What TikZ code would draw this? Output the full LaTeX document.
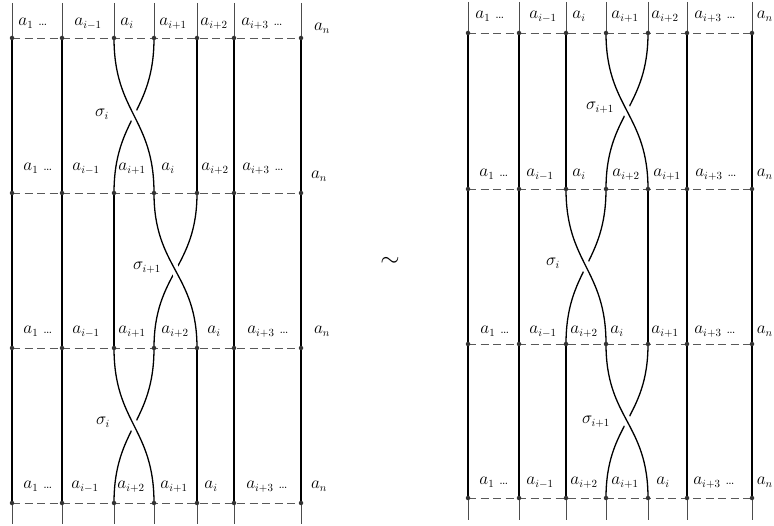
\documentclass[tikz,border=0pt]{standalone}
\begin{document}
\begin{tikzpicture}[x=1pt,y=-1pt,
  strand/.style={line width=1.3pt, black},
  stub/.style={line width=0.6pt, black!70},
  rung/.style={dash pattern=on 8pt off 4.5pt, line width=0.8pt, black!65},
  dot/.style={circle, fill=black!80, inner sep=0pt, minimum size=4.5pt},
  lab/.style={font=\fontsize{16}{18}\selectfont, inner sep=0pt, anchor=base},
  sig/.style={font=\fontsize{16}{18}\selectfont, inner sep=0pt},
  over/.style={strand, preaction={draw, white, line width=9pt}}]
\useasboundingbox (0,0) rectangle (774,526);
\clip (0,0) rectangle (774,526);
% ---------- left diagram coordinates
\foreach \x [count=\k] in {12,62,114,154,197,234,301} {
  \coordinate (L\k-0) at (\x,3);
  \coordinate (L\k-1) at (\x,38);
  \coordinate (L\k-2) at (\x,193);
  \coordinate (L\k-3) at (\x,348);
  \coordinate (L\k-4) at (\x,503);
  \coordinate (L\k-5) at (\x,524);
}
% ---------- right diagram coordinates
\foreach \x [count=\k] in {468,519,566,606,648,687,752} {
  \coordinate (R\k-0) at (\x,2);
  \coordinate (R\k-1) at (\x,33);
  \coordinate (R\k-2) at (\x,189);
  \coordinate (R\k-3) at (\x,344);
  \coordinate (R\k-4) at (\x,498);
  \coordinate (R\k-5) at (\x,520);
}
% stubs
\foreach \k in {1,...,7} {
  \draw[stub] (L\k-0) -- (L\k-1);
  \draw[stub] (L\k-4) -- (L\k-5);
  \draw[stub] (R\k-0) -- (R\k-1);
  \draw[stub] (R\k-4) -- (R\k-5);
}
% straight strands, left
\foreach \k in {1,2,5,6,7} \draw[strand] (L\k-1) -- (L\k-2);
\foreach \k in {1,2,3,6,7} \draw[strand] (L\k-2) -- (L\k-3);
\foreach \k in {1,2,5,6,7} \draw[strand] (L\k-3) -- (L\k-4);
% straight strands, right
\foreach \k in {1,2,3,6,7} \draw[strand] (R\k-1) -- (R\k-2);
\foreach \k in {1,2,5,6,7} \draw[strand] (R\k-2) -- (R\k-3);
\foreach \k in {1,2,3,6,7} \draw[strand] (R\k-3) -- (R\k-4);
% crossings, left
\draw[strand] (L4-1) .. controls +(0,75) and +(0,-75) .. (L3-2);
\draw[over]   (L3-1) .. controls +(0,75) and +(0,-75) .. (L4-2);
\draw[strand] (L5-2) .. controls +(0,75) and +(0,-75) .. (L4-3);
\draw[over]   (L4-2) .. controls +(0,75) and +(0,-75) .. (L5-3);
\draw[strand] (L4-3) .. controls +(0,75) and +(0,-75) .. (L3-4);
\draw[over]   (L3-3) .. controls +(0,75) and +(0,-75) .. (L4-4);
% crossings, right
\draw[strand] (R5-1) .. controls +(0,75) and +(0,-75) .. (R4-2);
\draw[over]   (R4-1) .. controls +(0,75) and +(0,-75) .. (R5-2);
\draw[strand] (R4-2) .. controls +(0,75) and +(0,-75) .. (R3-3);
\draw[over]   (R3-2) .. controls +(0,75) and +(0,-75) .. (R4-3);
\draw[strand] (R5-3) .. controls +(0,75) and +(0,-75) .. (R4-4);
\draw[over]   (R4-3) .. controls +(0,75) and +(0,-75) .. (R5-4);
% rungs and dots
\foreach \r in {1,...,4} {
  \draw[rung] (L1-\r) -- (L7-\r);
  \draw[rung] (R1-\r) -- (R7-\r);
  \foreach \k in {1,...,7} {
    \node[dot] (dL\k-\r) at (L\k-\r) {};
    \node[dot] (dR\k-\r) at (R\k-\r) {};
  }
}
% ---------- labels, left
\node[lab] (l11) at (33,26) {$a_1$ \dots};
\node[lab] (l12) at (88,26) {$a_{i-1}$};
\node[lab] (l13) at (127,26) {$a_i$};
\node[lab] (l14) at (173,26) {$a_{i+1}$};
\node[lab] (l15) at (214,26) {$a_{i+2}$};
\node[lab] (l16) at (262,26) {$a_{i+3}$ \dots};
\node[lab] (l17) at (322,31) {$a_n$};

\node[lab] (l21) at (38,171) {$a_1$ \dots};
\node[lab] (l22) at (86,171) {$a_{i-1}$};
\node[lab] (l23) at (132,171) {$a_{i+1}$};
\node[lab] (l24) at (168,171) {$a_i$};
\node[lab] (l25) at (215,171) {$a_{i+2}$};
\node[lab] (l26) at (263,171) {$a_{i+3}$ \dots};
\node[lab] (l27) at (319,179) {$a_n$};

\node[lab] (l31) at (38,334) {$a_1$ \dots};
\node[lab] (l32) at (86,334) {$a_{i-1}$};
\node[lab] (l33) at (132,334) {$a_{i+1}$};
\node[lab] (l34) at (175,334) {$a_{i+2}$};
\node[lab] (l35) at (214,334) {$a_i$};
\node[lab] (l36) at (268,334) {$a_{i+3}$ \dots};
\node[lab] (l37) at (322,334) {$a_n$};

\node[lab] (l41) at (38,489) {$a_1$ \dots};
\node[lab] (l42) at (85,489) {$a_{i-1}$};
\node[lab] (l43) at (131,489) {$a_{i+2}$};
\node[lab] (l44) at (174,489) {$a_{i+1}$};
\node[lab] (l45) at (211,489) {$a_i$};
\node[lab] (l46) at (267,489) {$a_{i+3}$ \dots};
\node[lab] (l47) at (319,489) {$a_n$};

\node[sig] (s1) at (102,114) {$\sigma_i$};
\node[sig] (s2) at (147,268) {$\sigma_{i+1}$};
\node[sig] (s3) at (103,422) {$\sigma_i$};
% ---------- labels, right
\node[lab] (r11) at (490,19) {$a_1$ \dots};
\node[lab] (r12) at (543,19) {$a_{i-1}$};
\node[lab] (r13) at (579,19) {$a_i$};
\node[lab] (r14) at (625,19) {$a_{i+1}$};
\node[lab] (r15) at (665,19) {$a_{i+2}$};
\node[lab] (r16) at (715,19) {$a_{i+3}$ \dots};
\node[lab, anchor=base east] (r17) at (773,19) {$a_n$};

\node[lab] (r21) at (494,177) {$a_1$ \dots};
\node[lab] (r22) at (540,177) {$a_{i-1}$};
\node[lab] (r23) at (579,177) {$a_i$};
\node[lab] (r24) at (626,177) {$a_{i+2}$};
\node[lab] (r25) at (667,177) {$a_{i+1}$};
\node[lab] (r26) at (716,177) {$a_{i+3}$ \dots};
\node[lab, anchor=base east] (r27) at (773,177) {$a_n$};

\node[lab] (r31) at (495,334) {$a_1$ \dots};
\node[lab] (r32) at (543,334) {$a_{i-1}$};
\node[lab] (r33) at (584,334) {$a_{i+2}$};
\node[lab] (r34) at (617,334) {$a_i$};
\node[lab] (r35) at (665,334) {$a_{i+1}$};
\node[lab] (r36) at (715,334) {$a_{i+3}$ \dots};
\node[lab, anchor=base east] (r37) at (773,334) {$a_n$};

\node[lab] (r41) at (494,485) {$a_1$ \dots};
\node[lab] (r42) at (540,485) {$a_{i-1}$};
\node[lab] (r43) at (584,485) {$a_{i+2}$};
\node[lab] (r44) at (625,485) {$a_{i+1}$};
\node[lab] (r45) at (663,485) {$a_i$};
\node[lab] (r46) at (714,485) {$a_{i+3}$ \dots};
\node[lab, anchor=base east] (r47) at (773,485) {$a_n$};

\node[sig] (t1) at (600,108) {$\sigma_{i+1}$};
\node[sig] (t2) at (553,263) {$\sigma_i$};
\node[sig] (t3) at (596,422) {$\sigma_{i+1}$};
% equivalence sign
\node[font=\fontsize{28}{28}\selectfont] (eq) at (390,262) {$\sim$};
\end{tikzpicture}
\end{document}
